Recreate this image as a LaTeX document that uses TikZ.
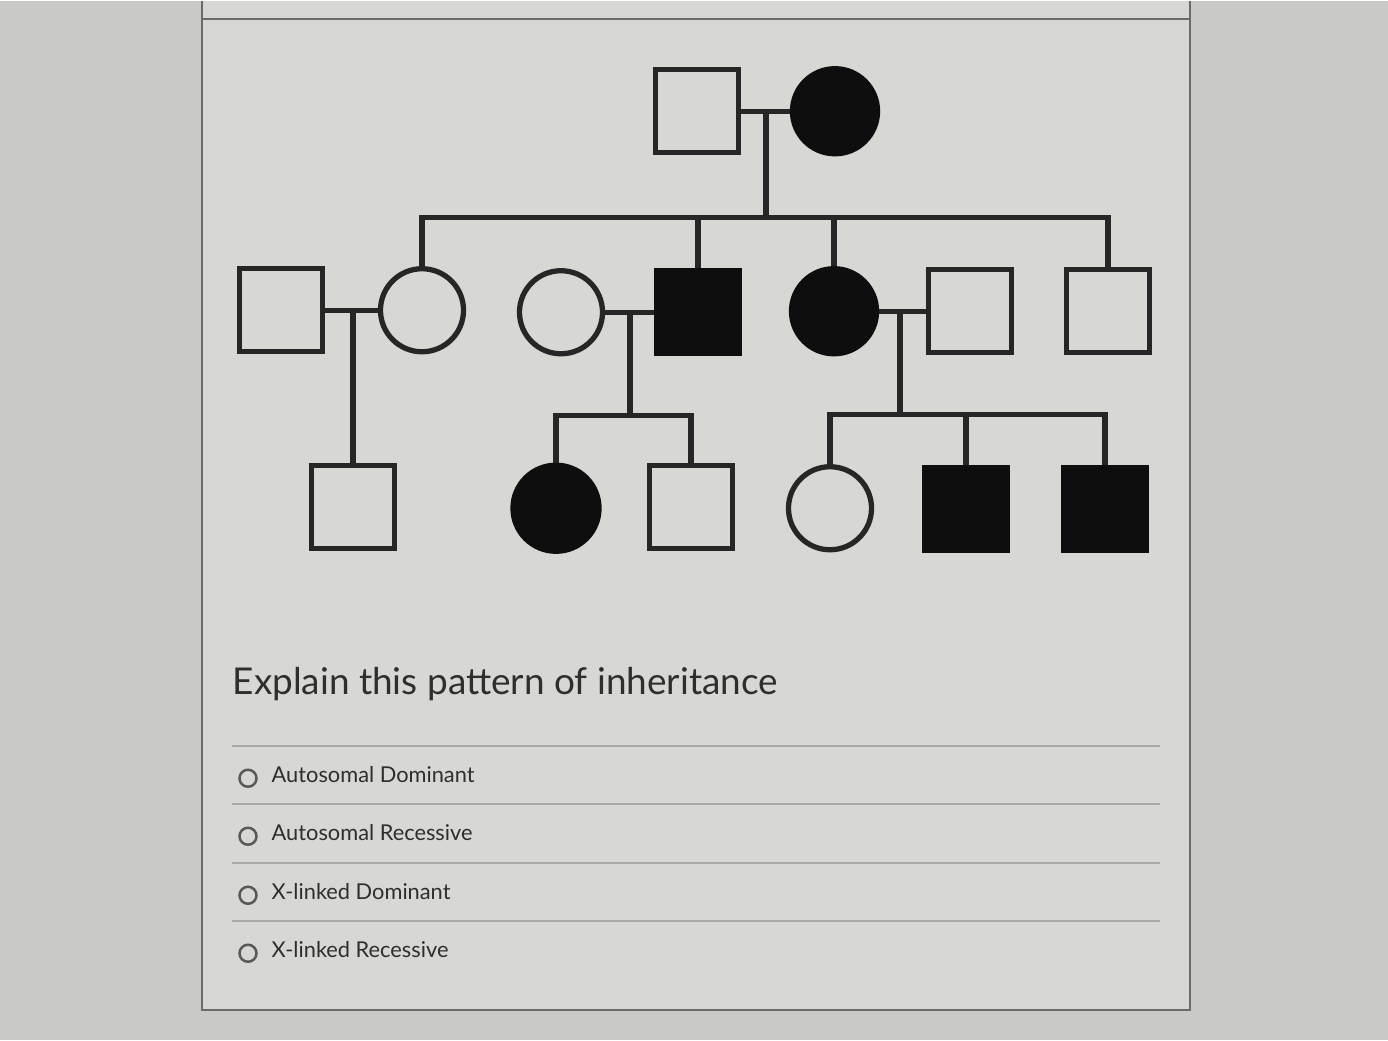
\documentclass[tikz,border=0pt]{standalone}
\usepackage{fontspec}
\setmainfont{Lato}
\definecolor{bgcol}{HTML}{C9C9C5}
\definecolor{panelcol}{HTML}{D7D7D3}
\definecolor{inkcol}{HTML}{262626}
\definecolor{fillcol}{HTML}{0E0E0E}
\definecolor{textcol}{HTML}{2E2E2E}
\definecolor{sepcol}{HTML}{A9A9A6}
\definecolor{framecol}{HTML}{6A6A68}
\begin{document}
\begin{tikzpicture}[x=0.01cm,y=-0.01cm]
\tikzset{
  pline/.style={draw=inkcol, line width=1.5pt},
  male/.style={rectangle, draw=inkcol, line width=1.5pt, minimum size=0.83cm, inner sep=0pt},
  female/.style={circle, draw=inkcol, line width=1.5pt, minimum size=0.83cm, inner sep=0pt},
  aff/.style={fill=fillcol, draw=fillcol},
  sepline/.style={draw=sepcol, line width=0.6pt},
  frameline/.style={draw=framecol, line width=0.7pt},
  radio/.style={circle, draw=black!65, line width=0.7pt, minimum size=0.17cm, inner sep=0pt},
  opt/.style={anchor=base west, inner sep=0pt, text=textcol, font=\fontsize{6.2}{7}\selectfont},
}
% background and panel
\fill[bgcol] (0,0) rectangle (1388,1039);
\fill[panelcol] (202,0) rectangle (1190,1009);
\draw[frameline] (202,0) -- (202,1009) -- (1190,1009) -- (1190,0);
\draw[frameline] (202,18) -- (1190,18);

% Generation I
\node[male] (g1m) at (697,110) {};
\node[female,aff,minimum size=0.85cm] (g1f) at (835,110) {};
\draw[pline] (g1m.east) -- (g1f.west);
\coordinate (g1mid) at (766,110);
\coordinate (sib1) at (766,216);
\draw[pline] (g1mid) -- (sib1);

% Generation II
\node[male] (a1) at (281,309) {};
\node[female] (a2) at (422,309) {};
\node[female] (a3) at (561,311) {};
\node[male,aff] (a4) at (698,311) {};
\node[female,aff,minimum size=0.85cm] (a5) at (834,310) {};
\node[male] (a6) at (970,310) {};
\node[male] (a7) at (1108,310) {};

\draw[pline] (a2.north) -- (a2.north |- sib1) -- (a7.north |- sib1) -- (a7.north);
\draw[pline] (a4.north) -- (a4.north |- sib1);
\draw[pline] (a5.north) -- (a5.north |- sib1);

\draw[pline] (a1.east) -- (a2.west);
\draw[pline] (a3.east) -- (a4.west);
\draw[pline] (a5.east) -- (a6.west);

% Generation III
\node[male] (b1) at (353,506) {};
\node[female,aff,minimum size=0.86cm] (b2) at (556,507) {};
\node[male] (b3) at (691,506) {};
\node[female] (b4) at (830,507) {};
\node[male,aff] (b5) at (966,508) {};
\node[male,aff] (b6) at (1105,508) {};

\coordinate (m2) at (630,311);
\coordinate (sib2) at (630,414);
\coordinate (m3) at (900,310);
\coordinate (sib3) at (900,413);

\draw[pline] (b1.north |- a1.east) -- (b1.north);
\draw[pline] (m2) -- (sib2);
\draw[pline] (b2.north) -- (b2.north |- sib2) -- (b3.north |- sib2) -- (b3.north);
\draw[pline] (m3) -- (sib3);
\draw[pline] (b4.north) -- (b4.north |- sib3) -- (b6.north |- sib3) -- (b6.north);
\draw[pline] (b5.north) -- (b5.north |- sib3);

% Question
\node[anchor=base west, inner sep=0pt, text=textcol, font=\fontsize{10.5}{12}\selectfont] (q) at (232,693) {Explain this pattern of inheritance};

\draw[sepline] (232,745) -- (1160,745);
\draw[sepline] (232,803) -- (1160,803);
\draw[sepline] (232,862) -- (1160,862);
\draw[sepline] (232,920) -- (1160,920);

\node[radio] (r1) at (248,777) {};
\node[opt] (o1) at (271,781) {Autosomal Dominant};
\node[radio] (r2) at (248,835) {};
\node[opt] (o2) at (271,839) {Autosomal Recessive};
\node[radio] (r3) at (248,894) {};
\node[opt] (o3) at (271,898) {X-linked Dominant};
\node[radio] (r4) at (248,952) {};
\node[opt] (o4) at (271,956) {X-linked Recessive};
\end{tikzpicture}
\end{document}
